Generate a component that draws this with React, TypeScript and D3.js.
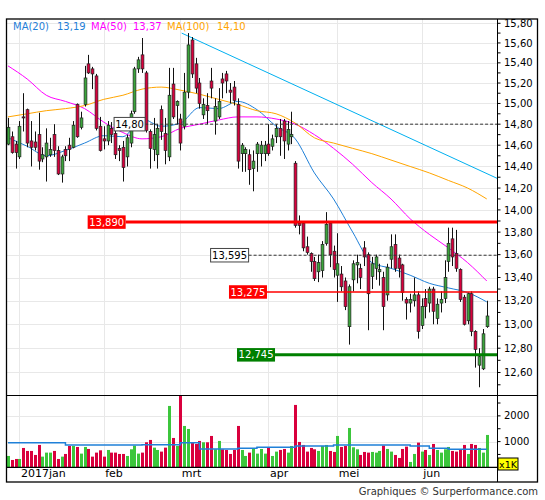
import React from 'react';
import * as d3 from 'd3';

// one entry per session, 28 Dec 2016 .. 26 Jun 2017
const open = [
  14.61, 14.68, 14.61, 14.49, 14.87, 14.94, 14.64, 14.63, 14.70, 14.47, 14.49, 14.51, 14.70, 14.55, 14.33, 14.56,
  14.60, 14.58, 14.99, 14.77, 14.99, 15.39, 15.34, 15.27, 14.78, 14.66, 14.64, 14.76, 14.71, 14.57, 14.58, 14.49,
  14.62, 14.92, 15.34, 15.48, 15.30, 14.73, 14.56, 14.51, 14.94, 14.71, 14.49, 15.19, 14.98, 14.85, 14.78, 15.11,
  15.63, 15.39, 15.20, 14.89, 14.98, 15.22, 14.83, 14.87, 15.24, 15.29, 15.13, 15.16, 14.99, 14.52, 14.52, 14.51,
  14.38, 14.52, 14.52, 14.52, 14.61, 14.59, 14.68, 14.76, 14.83, 14.61, 14.68, 14.43, 13.88, 13.88, 13.67, 13.61,
  13.54, 13.45, 13.46, 13.70, 13.88, 13.63, 13.42, 13.43, 13.37, 12.98, 13.38, 13.51, 13.48, 13.66, 13.60, 13.41,
  13.48, 13.45, 13.40, 13.25, 13.56, 13.69, 13.57, 13.51, 13.21, 13.18, 13.20, 13.25, 12.99, 13.22, 13.18, 13.30,
  13.05, 13.18, 13.22, 13.54, 13.74, 13.61, 13.47, 13.23, 13.03, 13.26, 12.94, 12.66, 12.63, 12.98,
];
const high = [
  14.86, 14.73, 14.64, 14.83, 15.10, 14.95, 14.83, 14.73, 14.91, 14.58, 14.76, 14.67, 14.80, 14.59, 14.51, 14.59,
  14.67, 14.83, 15.00, 14.92, 15.37, 15.48, 15.36, 15.29, 14.87, 14.78, 14.83, 14.82, 14.76, 14.60, 14.64, 14.70,
  14.93, 15.36, 15.46, 15.65, 15.32, 14.75, 14.86, 14.80, 14.98, 14.86, 15.35, 15.35, 15.03, 14.90, 15.30, 15.70,
  15.66, 15.45, 15.25, 15.05, 15.10, 15.35, 15.05, 15.15, 15.30, 15.32, 15.20, 15.22, 15.05, 14.62, 14.58, 14.56,
  14.55, 14.63, 14.64, 14.64, 14.80, 14.70, 14.80, 14.85, 14.85, 14.83, 14.92, 14.45, 13.95, 13.90, 13.76, 13.62,
  13.58, 13.60, 13.72, 13.98, 13.89, 13.68, 13.79, 13.50, 13.40, 13.34, 13.55, 13.60, 13.52, 13.72, 13.62, 13.58,
  13.60, 13.52, 13.45, 13.52, 13.78, 13.78, 13.60, 13.52, 13.23, 13.26, 13.40, 13.28, 13.22, 13.30, 13.32, 13.32,
  13.22, 13.28, 13.55, 13.84, 13.84, 13.82, 13.48, 13.25, 13.27, 13.28, 12.95, 12.80, 12.96, 13.20,
];
const low = [
  14.60, 14.52, 14.38, 14.47, 14.73, 14.58, 14.40, 14.55, 14.37, 14.44, 14.26, 14.49, 14.49, 14.32, 14.25, 14.45,
  14.45, 14.57, 14.67, 14.75, 14.97, 15.29, 15.14, 14.74, 14.54, 14.56, 14.60, 14.62, 14.47, 14.45, 14.26, 14.40,
  14.58, 14.90, 15.30, 15.30, 14.72, 14.38, 14.45, 14.38, 14.65, 14.42, 14.45, 14.85, 14.80, 14.55, 14.75, 15.05,
  15.25, 15.10, 14.95, 14.85, 14.80, 15.05, 14.70, 14.85, 15.05, 15.10, 15.00, 14.98, 14.38, 14.35, 14.35, 14.23,
  14.17, 14.35, 14.40, 14.45, 14.50, 14.55, 14.62, 14.50, 14.47, 14.55, 14.61, 13.84, 13.78, 13.63, 13.60, 13.45,
  13.37, 13.36, 13.40, 13.68, 13.49, 13.40, 13.19, 13.28, 13.12, 12.83, 13.28, 13.35, 13.30, 13.50, 12.95, 13.30,
  13.38, 13.33, 12.95, 13.20, 13.48, 13.45, 13.40, 13.20, 13.04, 13.10, 13.15, 12.88, 12.96, 13.05, 13.10, 13.00,
  13.00, 13.10, 13.18, 13.45, 13.50, 13.45, 13.19, 12.99, 13.00, 12.90, 12.64, 12.48, 12.62, 12.97,
];
const close = [
  14.77, 14.53, 14.53, 14.78, 14.86, 14.62, 14.58, 14.58, 14.45, 14.51, 14.62, 14.56, 14.55, 14.33, 14.49, 14.50,
  14.56, 14.79, 14.68, 14.86, 15.25, 15.30, 15.29, 14.76, 14.55, 14.64, 14.79, 14.70, 14.51, 14.55, 14.39, 14.67,
  14.90, 15.34, 15.43, 15.34, 14.74, 14.57, 14.70, 14.76, 14.73, 14.55, 15.08, 14.87, 15.02, 14.62, 15.11, 15.58,
  15.29, 15.15, 15.00, 14.99, 14.93, 15.15, 14.97, 15.02, 15.20, 15.22, 15.11, 15.03, 14.45, 14.60, 14.56, 14.37,
  14.45, 14.61, 14.60, 14.60, 14.52, 14.66, 14.76, 14.68, 14.64, 14.75, 14.70, 13.86, 13.86, 13.66, 13.62, 13.54,
  13.39, 13.53, 13.69, 13.87, 13.60, 13.47, 13.52, 13.32, 13.15, 13.32, 13.52, 13.53, 13.40, 13.58, 13.26, 13.52,
  13.58, 13.47, 13.15, 13.49, 13.67, 13.48, 13.48, 13.27, 13.18, 13.21, 13.25, 12.94, 13.15, 13.15, 13.30, 13.11,
  13.17, 13.21, 13.40, 13.70, 13.58, 13.48, 13.21, 13.00, 13.26, 12.94, 12.79, 12.73, 12.92, 13.07,
];
// thousands of shares
const volume = [
  441, 285, 324, 324, 752, 636, 636, 480, 869, 415, 571, 571, 636, 324, 415, 519,
  830, 830, 791, 532, 791, 713, 415, 571, 661, 415, 674, 571, 571, 519, 519, 441,
  700, 843, 532, 571, 973, 1064, 765, 674, 610, 765, 2386, 1141, 830, 2789, 1608, 1491,
  960, 908, 1025, 973, 973, 1219, 700, 1025, 700, 674, 519, 674, 1608, 674, 441, 571,
  713, 532, 713, 532, 765, 441, 610, 674, 713, 571, 830, 2425, 986, 869, 610, 752,
  700, 636, 830, 869, 636, 597, 1219, 791, 830, 1530, 778, 700, 480, 597, 571, 597,
  571, 636, 843, 713, 610, 480, 363, 713, 804, 208, 519, 960, 610, 674, 480, 908,
  674, 571, 700, 791, 636, 610, 674, 869, 519, 908, 869, 752, 571, 1258,
];

const monthLabels = ['2017jan', 'feb', 'mrt', 'apr', 'mei', 'jun'];
const monthStart = [3, 25, 45, 68, 86, 108];

// moving averages, read every 5th session
const maIndex = [0, 5, 10, 15, 20, 25, 30, 35, 40, 45, 50, 55, 60, 65, 70, 75, 80, 85, 90, 95, 100, 105, 110, 115, 120, 125];
const ma20 = [14.67, 14.59, 14.50, 14.55, 14.62, 14.69, 14.68, 14.85, 14.78, 14.81, 14.96, 14.95, 15.02, 14.94, 14.78, 14.66, 14.34, 14.10, 13.80, 13.53, 13.48, 13.42, 13.35, 13.31, 13.27, 13.19];
const ma50 = [15.37, 15.24, 15.08, 15.02, 14.95, 14.82, 14.72, 14.66, 14.68, 14.76, 14.80, 14.84, 14.87, 14.87, 14.85, 14.80, 14.70, 14.57, 14.42, 14.25, 14.10, 13.92, 13.78, 13.66, 13.53, 13.37];
const ma100 = [14.87, 14.90, 14.93, 14.95, 14.98, 15.04, 15.08, 15.14, 15.16, 15.13, 15.09, 15.04, 14.99, 14.93, 14.90, 14.81, 14.67, 14.62, 14.57, 14.52, 14.46, 14.40, 14.34, 14.27, 14.20, 14.10];
const volMa = [957, 957, 957, 868, 868, 868, 868, 880, 880, 957, 712, 712, 740, 778, 778, 829, 829, 868, 868, 868, 868, 832, 740, 700, 700, 700];

const maNames = ['MA(20)', 'MA(50)', 'MA(100)'];

// drawn levels
const levels = [14.8, 13.595, 13.89, 13.275, 12.745];
const levelText = ['14,80', '13,595', '13,890', '13,275', '12,745'];

// trend line, [session, price]
const trendFrom = [45.35, 15.7];
const trendTo = [127.68, 14.29];

// axis ticks
const priceLabels = [12.6, 12.8, 13.0, 13.2, 13.4, 13.6, 13.8, 14.0, 14.2, 14.4, 14.6, 14.8, 15.0, 15.2, 15.4, 15.6, 15.8];
const volLabels = [1000, 2000];
const volMinor = [500, 1500, 2500];

const RED = '#d9003d';
const GREEN = '#3aa53a';
const VGREEN = '#3cc63c';
const BLUE = '#1f80d8';
const MAGENTA = '#ff00ff';
const ORANGE = '#ffa500';
const FONT = '"DejaVu Sans", Verdana, sans-serif';

const maColors = [BLUE, MAGENTA, ORANGE];
const legendX = [13, 57, 91, 133, 167, 217];

const levelStyle = [
  { at: 27.7, fill: '#fff', stroke: '#444', text: '#000', line: '#333', width: 1, dash: '3,2' },
  { at: 52.9, fill: '#fff', stroke: '#444', text: '#000', line: '#333', width: 1, dash: '3,2' },
  { at: 20.8, fill: '#ff0000', stroke: 'none', text: '#fff', line: '#ff0000', width: 3, dash: undefined },
  { at: 57.7, fill: '#ff0000', stroke: 'none', text: '#fff', line: '#ff0000', width: 1.5, dash: undefined },
  { at: 59.8, fill: '#008000', stroke: 'none', text: '#fff', line: '#008000', width: 3, dash: undefined },
];

const margin = { left: 7, right: 497, frame: 538, top: 19, priceBottom: 395, volBottom: 467.3, bottom: 482 };

const nl = d3.formatLocale({ decimal: ',', thousands: '.', grouping: [3], currency: ['', ''] });
const fmt2 = nl.format('.2f');

export default function App() {
  const x = d3.scaleLinear().domain([-0.26, 127.68]).range([margin.left, margin.right]);
  const y = d3.scaleLog().domain([12.4176, 15.844]).range([margin.priceBottom, margin.top]);
  const yv = d3.scaleLinear().domain([0, 2800]).range([margin.volBottom, margin.priceBottom + 0.3]);

  const px = (i: number) => Math.round(x(i)) + 0.5;
  const crisp = (v: number) => Math.round(v) + 0.5;

  // minor ticks every 0,10 between the labelled ones
  const minorTicks = d3.range(125, 159).map((v) => v / 10);

  const maLine = d3
    .line<[number, number]>()
    .x((d) => x(d[0]))
    .y((d) => y(d[1]))
    .curve(d3.curveMonotoneX);
  const volLine = d3
    .line<[number, number]>()
    .x((d) => x(d[0]))
    .y((d) => yv(d[1]))
    .curve(d3.curveStepAfter);

  const maSeries = [ma20, ma50, ma100];

  return (
    <svg
      width={545}
      height={500}
      style={{ position: 'absolute', left: 0, top: 0, background: '#fff' }}
      fontFamily={FONT}
    >
      <defs>
        <clipPath id="price">
          <rect x={margin.left} y={margin.top} width={margin.right - margin.left} height={margin.priceBottom - margin.top} />
        </clipPath>
      </defs>

      {/* grid */}
      {priceLabels.map((t) => (
        <line key={'g' + t} x1={margin.left} x2={margin.right} y1={crisp(y(t))} y2={crisp(y(t))} stroke="#e8e8e8" />
      ))}
      {volLabels.map((t) => (
        <line key={'gv' + t} x1={margin.left} x2={margin.right} y1={crisp(yv(t))} y2={crisp(yv(t))} stroke="#e8e8e8" />
      ))}
      {monthStart.map((m) => (
        <line key={'gm' + m} x1={px(m)} x2={px(m)} y1={margin.top} y2={margin.volBottom} stroke="#e8e8e8" />
      ))}

      {/* price panel */}
      <g clipPath="url(#price)">
        <line
          x1={x(trendFrom[0])}
          y1={y(trendFrom[1])}
          x2={x(trendTo[0])}
          y2={y(trendTo[1])}
          stroke="#00b0f0"
          strokeWidth={1}
        />
        {maSeries.map((s, k) => (
          <path
            key={'ma' + k}
            d={maLine(maIndex.map((i, j) => [i, s[j]] as [number, number])) || ''}
            fill="none"
            stroke={maColors[k]}
            strokeWidth={1}
          />
        ))}
        {open.map((o, i) => {
          const c = close[i];
          const up = c >= o;
          const cx = px(i);
          const yt = y(Math.max(o, c));
          const yb = y(Math.min(o, c));
          return (
            <g key={'c' + i}>
              <line x1={cx} x2={cx} y1={y(high[i])} y2={y(low[i])} stroke="#111" strokeWidth={1} />
              <rect
                x={cx - 1.4}
                y={yt}
                width={2.8}
                height={Math.max(yb - yt, 1)}
                fill={up ? GREEN : RED}
                stroke="#222"
                strokeWidth={0.7}
              />
            </g>
          );
        })}

        {levels.map((lv, k) => {
          const st = levelStyle[k];
          const ly = y(lv);
          const bw = 7 * levelText[k].length - 4;
          const bx = x(st.at);
          return (
            <g key={'lv' + k}>
              <line
                x1={bx + bw}
                x2={margin.right}
                y1={ly}
                y2={ly}
                stroke={st.line}
                strokeWidth={st.width}
                strokeDasharray={st.dash}
              />
              <rect x={bx} y={ly - 6.75} width={bw} height={13.5} fill={st.fill} stroke={st.stroke} strokeWidth={1} />
              <text x={bx + bw / 2} y={ly + 3.6} textAnchor="middle" fontSize={10} fill={st.text}>
                {levelText[k]}
              </text>
            </g>
          );
        })}
      </g>

      {/* legend */}
      {maNames.map((n, k) => (
        <g key={'lg' + k} fontSize={10} fill={maColors[k]}>
          <text x={legendX[k * 2]} y={30}>{n}</text>
          <text x={legendX[k * 2 + 1]} y={30}>{fmt2(maSeries[k][maSeries[k].length - 1])}</text>
        </g>
      ))}

      {/* volume panel */}
      {volume.map((v, i) => (
        <rect
          key={'v' + i}
          x={Math.round(x(i)) - 1}
          y={yv(v)}
          width={3}
          height={margin.volBottom - yv(v)}
          fill={close[i] >= open[i] ? VGREEN : RED}
        />
      ))}
      <path
        d={volLine(maIndex.map((i, j) => [i, volMa[j]] as [number, number])) || ''}
        fill="none"
        stroke={BLUE}
        strokeWidth={1.5}
      />

      {/* frame and axes */}
      <rect
        x={margin.left - 0.5}
        y={margin.top}
        width={margin.frame - margin.left}
        height={margin.bottom - margin.top}
        fill="none"
        stroke="#000"
        strokeWidth={1.3}
      />
      <line x1={margin.left} x2={margin.frame} y1={margin.priceBottom + 0.5} y2={margin.priceBottom + 0.5} stroke="#000" strokeWidth={1.2} />
      <line x1={margin.left} x2={margin.right} y1={margin.volBottom} y2={margin.volBottom} stroke="#000" strokeWidth={1.2} />
      <line x1={margin.right + 0.5} x2={margin.right + 0.5} y1={margin.top} y2={margin.bottom} stroke="#000" strokeWidth={1} />

      {minorTicks.map((t) => (
        <line key={'mt' + t} x1={margin.right} x2={margin.right + 3.5} y1={y(t)} y2={y(t)} stroke="#000" />
      ))}
      {priceLabels.map((t) => (
        <text key={'tl' + t} x={margin.right + 7} y={y(t) + 3.6} fontSize={10} fill="#000">
          {fmt2(t)}
        </text>
      ))}

      {volLabels.concat(volMinor).map((t) => (
        <line key={'vt' + t} x1={margin.right} x2={margin.right + 3.5} y1={yv(t)} y2={yv(t)} stroke="#000" />
      ))}
      {volLabels.map((t) => (
        <text key={'vl' + t} x={margin.right + 7} y={yv(t) + 3.6} fontSize={10} fill="#000">
          {t}
        </text>
      ))}
      <rect x={margin.right + 1} y={458} width={20} height={12} fill="#ffff00" stroke="#000" strokeWidth={1} />
      <text x={margin.right + 11} y={467.5} textAnchor="middle" fontSize={9.5} fill="#000">
        x1K
      </text>

      {monthStart.map((m, k) => (
        <text key={'ml' + m} x={x(m) + 1.5} y={477.3} fontSize={11} fill="#000">
          {monthLabels[k]}
        </text>
      ))}

      <text x={margin.frame} y={495} textAnchor="end" fontSize={10} fill="#333">
        Graphiques © Surperformance.com
      </text>
    </svg>
  );
}
